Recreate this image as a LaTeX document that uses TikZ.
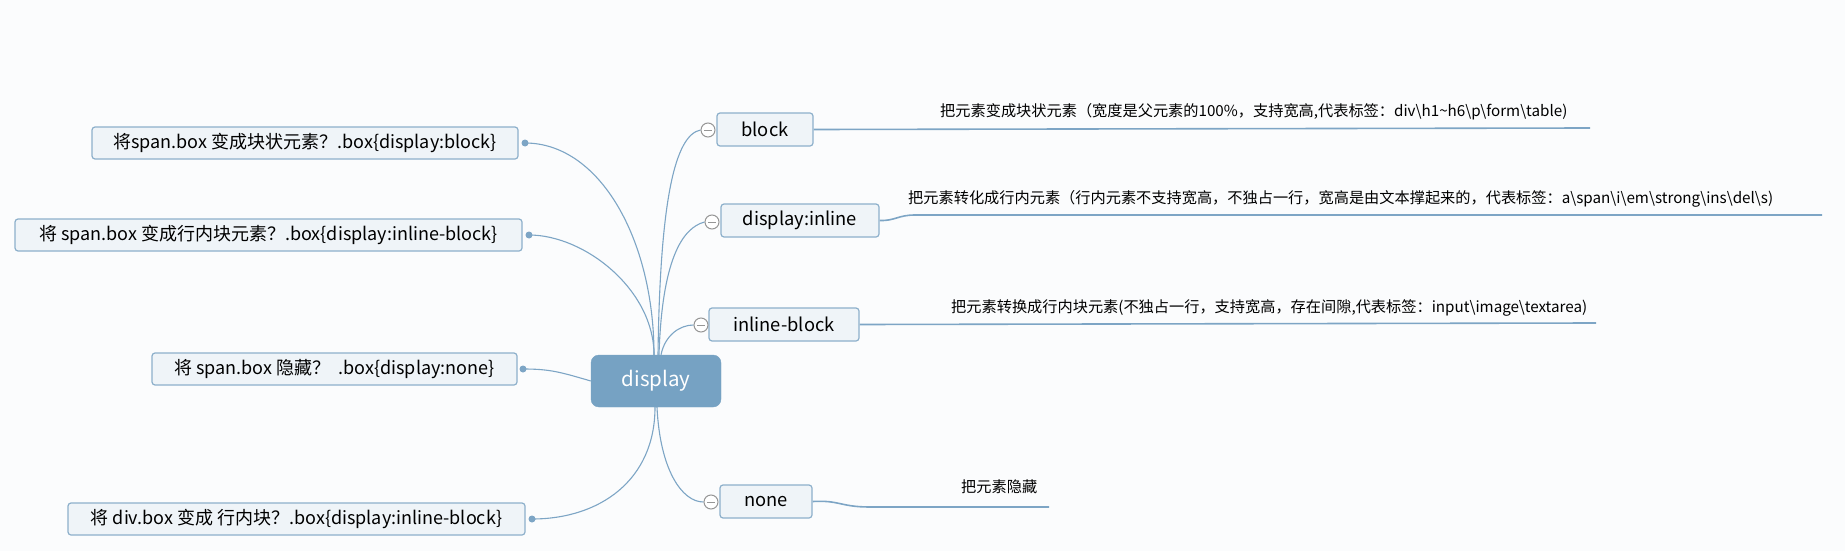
\documentclass[tikz,border=0pt]{standalone}
\usepackage{fontspec}
\setmainfont{Noto Sans CJK SC}
\usetikzlibrary{backgrounds}
\definecolor{bgc}{RGB}{251,252,253}
\definecolor{boxfill}{RGB}{239,244,248}
\definecolor{boxline}{RGB}{141,176,203}
\definecolor{ctrfill}{RGB}{118,162,195}
\definecolor{linec}{RGB}{125,165,197}
\definecolor{circc}{RGB}{150,150,150}
\begin{document}
\begin{tikzpicture}[x=1pt,y=-1pt,
  lbox/.style={draw=boxline,fill=boxfill,line width=1.2pt,rounded corners=3pt,inner sep=0pt,minimum height=32pt,font=\fontsize{18}{21}\selectfont},
  rbox/.style={draw=boxline,fill=boxfill,line width=1.2pt,rounded corners=3pt,inner sep=0pt,minimum height=33pt,font=\fontsize{18.3}{21}\selectfont},
  ctrbox/.style={draw=ctrfill,fill=ctrfill,rounded corners=8pt,inner sep=0pt,minimum width=130pt,minimum height=52pt,text=white,font=\fontsize{20.5}{24}\selectfont},
  dotn/.style={circle,fill=linec,inner sep=0pt,minimum size=7pt},
  collapse/.style={circle,draw=circc,fill=white,line width=1pt,inner sep=0pt,minimum size=14pt,
    path picture={\draw[circc,line width=1pt] ([xshift=-4pt]path picture bounding box.center) -- ([xshift=4pt]path picture bounding box.center);}},
  desc/.style={anchor=west,inner sep=0pt,font=\fontsize{15.2}{18}\selectfont},
  conn/.style={draw=linec,line width=1.1pt},
  rline/.style={draw=linec,line width=1.6pt}]
\useasboundingbox (0,0) rectangle (1845,551);

% centre
\node[ctrbox] (ctr) at (656,381) {display};

% left boxes
\node[lbox,minimum width=426pt] (l1) at (305,143) {将span.box 变成块状元素？.box\{display:block\}};
\node[lbox,minimum width=507pt] (l2) at (268.5,235) {将 span.box 变成行内块元素？.box\{display:inline-block\}};
\node[lbox,minimum width=365pt] (l3) at (334.5,369) {将 span.box 隐藏？\ \ .box\{display:none\}};
\node[lbox,minimum width=457pt] (l4) at (296.5,519) {将 div.box 变成 行内块？.box\{display:inline-block\}};
\node[dotn] (d1) at (525,143) {};
\node[dotn] (d2) at (529,235) {};
\node[dotn] (d3) at (523,369) {};
\node[dotn] (d4) at (532,519) {};

% right boxes
\node[rbox,minimum width=96pt] (r1) at (765,129.5) {block};
\node[rbox,minimum width=158pt] (r2) at (800,220.5) {display:inline};
\node[rbox,minimum width=150pt] (r3) at (784,324.5) {inline-block};
\node[rbox,minimum width=92pt] (r4) at (766,501.5) {none};
\node[collapse] (c1) at (708,130) {};
\node[collapse] (c2) at (712,222) {};
\node[collapse] (c3) at (701,325) {};
\node[collapse] (c4) at (711,502) {};

% line ends
\coordinate (e1) at (1590,128);
\coordinate (e2) at (1822,215);
\coordinate (e3) at (1596,323);
\coordinate (e4) at (1049,507);

% descriptions
\node[desc] (t1) at (940,112) {把元素变成块状元素（宽度是父元素的100\%，支持宽高,代表标签：div\textbackslash h1\textasciitilde h6\textbackslash p\textbackslash form\textbackslash table)};
\node[desc] (t2) at (908,199) {把元素转化成行内元素（行内元素不支持宽高，不独占一行，宽高是由文本撑起来的，代表标签：a\textbackslash span\textbackslash i\textbackslash em\textbackslash strong\textbackslash ins\textbackslash del\textbackslash s)};
\node[desc] (t3) at (951,308) {把元素转换成行内块元素(不独占一行，支持宽高，存在间隙,代表标签：input\textbackslash image\textbackslash textarea)};
\node[desc] (t4) at (961,487) {把元素隐藏};

\begin{pgfonlayer}{background}
\fill[bgc] (0,0) rectangle (1845,551);
% left connectors
\draw[conn] ([xshift=-2pt]ctr.north) .. controls (654,240) and (600,143) .. (d1.center);
\draw[conn] ([xshift=-2pt]ctr.north) .. controls (654,290) and (585,235) .. (d2.center);
\draw[conn] (ctr.west) .. controls (560,372) and (550,369) .. (d3.center);
\draw[conn] ([xshift=-1pt]ctr.south) .. controls (655,480) and (600,519) .. (d4.center);
% right connectors
\draw[conn] ([xshift=2pt]ctr.north) .. controls (660,200) and (675,135) .. (c1.west);
\draw[conn] ([xshift=3pt]ctr.north) .. controls (662,260) and (682,228) .. (c2.west);
\draw[conn] ([xshift=5pt]ctr.north) .. controls (665,335) and (680,325) .. (c3.west);
\draw[conn] ([xshift=1pt]ctr.south) .. controls (660,470) and (682,502) .. (c4.west);
% description lines
\draw[rline] (r1.east) -- (e1);
\draw[rline] (r2.east) .. controls (895,221) and (898,215) .. (915,215) -- (e2);
\draw[rline] (r3.east) -- (e3);
\draw[rline] (r4.east) .. controls (840,500) and (840,507) .. (870,507) -- (e4);
\end{pgfonlayer}
\end{tikzpicture}
\end{document}
